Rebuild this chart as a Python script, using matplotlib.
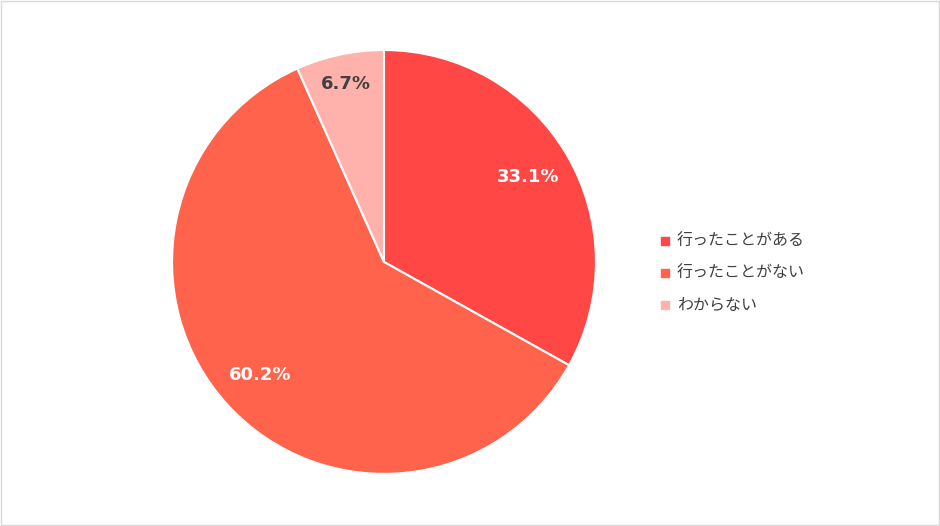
import matplotlib
matplotlib.use("Agg")
import matplotlib.pyplot as plt
from matplotlib.patches import Rectangle
import numpy as np

plt.rcParams['font.family'] = ['Noto Sans CJK JP', 'DejaVu Sans']

categories = ["行ったことがある", "行ったことがない", "わからない"]
values = [33.1, 60.2, 6.7]
colors = ["#FF4745", "#FF634C", "#FFB1AB"]
label_colors = ["white", "white", "#404040"]
label_dist = [0.79, 0.79, 0.86]

fig = plt.figure(figsize=(9.4, 5.26), dpi=100)
fig.patches.append(Rectangle((0.001, 0.001), 0.998, 0.997, transform=fig.transFigure,
                             fill=False, edgecolor="#D9D9D9", linewidth=1))
ax = fig.add_axes([0.4085 - 0.2266, 0.502 - 0.405, 0.4532, 0.81])
wedges, _ = ax.pie(values, colors=colors, startangle=90, counterclock=False,
                   wedgeprops=dict(edgecolor="white", linewidth=1.5))
ax.set_xlim(-1.005, 1.005)
ax.set_ylim(-1.005, 1.005)
for w, v, c, d in zip(wedges, values, label_colors, label_dist):
    ang = np.deg2rad((w.theta1 + w.theta2) / 2)
    ax.text(d * np.cos(ang), d * np.sin(ang), f"{v}%", ha="center", va="center",
            color=c, fontsize=13, fontweight="bold", family="DejaVu Sans")
ax.set_aspect("equal")

for i, (cat, col) in enumerate(zip(categories, colors)):
    y = 1 - (241 + i * 32) / 526
    fig.patches.append(Rectangle((661 / 940, y - 4 / 526), 8 / 940, 8 / 526,
                                 transform=fig.transFigure, color=col))
    fig.text(677 / 940, y, cat, va="center", ha="left", fontsize=11.5, color="#404040")

fig.savefig("out.png", dpi=100)
